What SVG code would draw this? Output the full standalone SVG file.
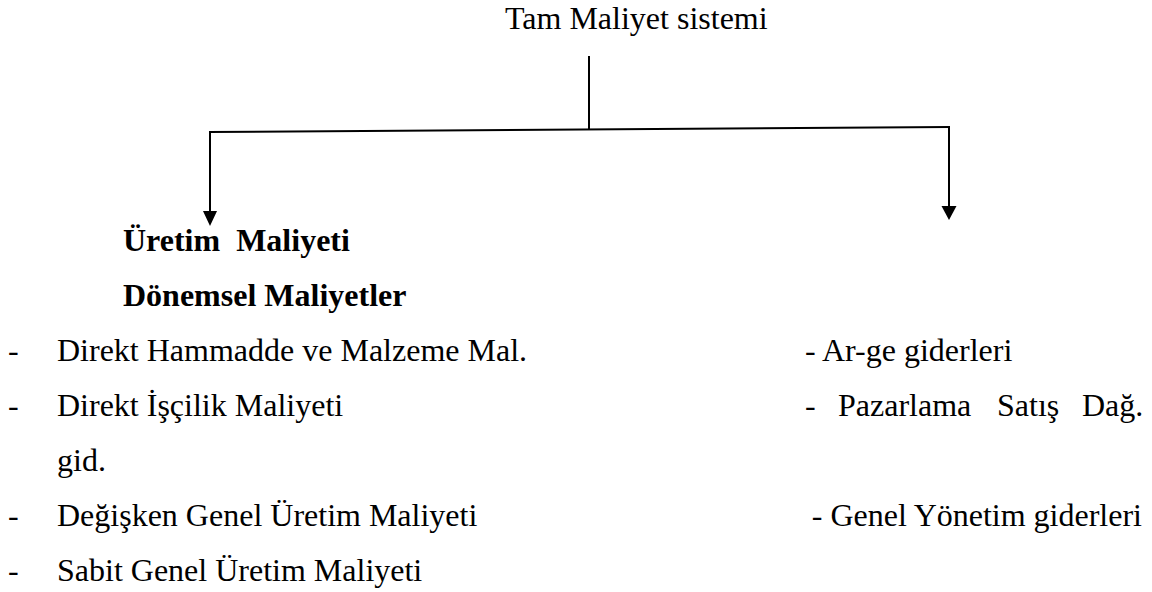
<svg xmlns="http://www.w3.org/2000/svg" width="1152" height="592" viewBox="0 0 1152 592">
  <style>
    text { font-family: "Liberation Serif", "Times New Roman", serif; font-size: 32px; fill: #000; }
    .b { font-weight: bold; }
    .ln { stroke: #000; stroke-width: 2; fill: none; }
  </style>
  <defs>
    <marker id="ah" markerWidth="15" markerHeight="15" viewBox="0 0 15 15" refX="7.5" refY="15" orient="auto-start-reverse" markerUnits="userSpaceOnUse">
      <path d="M0,0 L15,0 L7.5,15 Z" fill="#000"/>
    </marker>
  </defs>

  <rect width="1152" height="592" fill="#fff"/>

  <g id="root">
    <text x="505" y="29">Tam Maliyet sistemi</text>
  </g>

  <g id="connectors">
    <line class="ln" x1="589" y1="56" x2="589" y2="130"/>
    <line class="ln" x1="209" y1="132" x2="950" y2="127"/>
    <path class="ln" d="M210,132 V211" transform="translate(0,0)"/>
    <path d="M203,211 L217,211 L210,226 Z" fill="#000"/>
    <path class="ln" d="M949,127 V206"/>
    <path d="M941.5,206 L956.5,206 L949,220 Z" fill="#000"/>
  </g>

  <g id="left-branch">
    <text class="b" x="123" y="251" xml:space="preserve">Üretim  Maliyeti</text>
    <text class="b" x="123" y="306">Dönemsel Maliyetler</text>
    <text x="8" y="361">-</text>
    <text x="57" y="361">Direkt Hammadde ve Malzeme Mal.</text>
    <text x="8" y="416">-</text>
    <text x="57" y="416">Direkt İşçilik Maliyeti</text>
    <text x="57" y="471">gid.</text>
    <text x="8" y="526">-</text>
    <text x="57" y="526">Değişken Genel Üretim Maliyeti</text>
    <text x="8" y="581">-</text>
    <text x="57" y="581">Sabit Genel Üretim Maliyeti</text>
  </g>

  <g id="right-branch">
    <text x="805" y="361">- Ar-ge giderleri</text>
    <text x="805" y="416">-</text>
    <text x="838" y="416">Pazarlama</text>
    <text x="997" y="416">Satış</text>
    <text x="1082" y="416">Dağ.</text>
    <text x="1142" y="526" text-anchor="end">- Genel Yönetim giderleri</text>
  </g>
</svg>
